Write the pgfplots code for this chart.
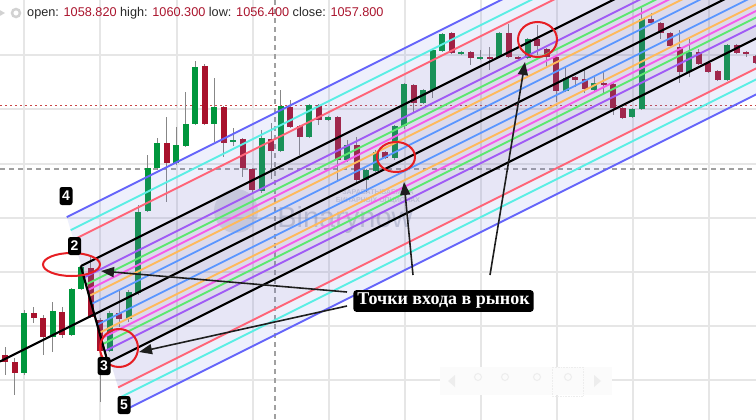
\documentclass[border=0pt]{standalone}
\usepackage{pgfplots}
\pgfplotsset{compat=1.18}
\usepackage{pgfplotstable}
\usepackage{fontspec}
\setmainfont{Liberation Sans}
\newfontfamily\serifb{Liberation Serif}
\usetikzlibrary{arrows.meta}

\definecolor{cgreen}{RGB}{0,150,60}
\definecolor{cred}{RGB}{168,18,44}
\definecolor{wick}{RGB}{135,135,135}
\definecolor{lblue}{RGB}{100,100,250}
\definecolor{lcyan}{RGB}{90,238,228}
\definecolor{lred}{RGB}{255,100,120}
\definecolor{lpurple}{RGB}{160,90,245}
\definecolor{lgreen}{RGB}{90,232,110}
\definecolor{lmag}{RGB}{245,90,235}
\definecolor{lorange}{RGB}{255,185,90}
\definecolor{lsky}{RGB}{90,150,255}
\definecolor{valred}{RGB}{170,20,45}
\definecolor{ring}{RGB}{230,30,35}
\definecolor{arr}{RGB}{30,30,30}
\definecolor{wm}{RGB}{110,125,150}

\tikzset{
  numlabel/.style={fill=black, text=white, rounded corners=2.5pt, minimum width=13pt,
      minimum height=18pt, inner sep=0pt, font=\bfseries\fontsize{14}{14}\selectfont},
  arrow/.style={line width=1.6pt, draw=arr, -{Triangle[length=13pt,width=10pt]}},
}

% candles in screen pixels: body top/bottom, wick top/bottom
\pgfplotstableread{
x     bt  bb  hi  lo
24    313 373 310 375
52.5  311 337 302 352
71.5  289 335 288 336
81    267 289 265 290
109.5 313 351 311 352
128.5 292 319 290 322
138   212 293 205 295
147.5 168 211 155 212
157   143 168 138 170
176   145 163 127 165
185.5 124 146 92  147
195   67  124 61  125
214   107 124 78  142
233   140 142 128 146
261.5 138 191 130 193
280.5 106 151 90  152
309   105 137 104 138
328   117 120 116 121
347   145 160 140 162
366   170 180 169 192
375.5 152 171 150 172
394.5 126 158 125 160
404   84  126 83  129
423   90  103 89  104
432.5 50  90  49  98
442   34  51  33  52
461   52  54  51  55
480   57  59  50  60
499   33  57  32  58
527.5 39  58  38  59
565.5 78  91  67  92
594   83  90  77  91
632   109 117 108 118
641.5 19  109 6   110
689   52  72  39  77
727   45  80  44  81
}\greens

\pgfplotstableread{
x     bt  bb  hi  lo
5     355 362 347 375
14.5  362 373 358 395
33.5  313 318 307 323
43    318 337 315 355
62    312 335 307 338
90.5  268 317 257 318
100   320 351 318 402
119   313 319 290 327
166.5 143 163 117 202
204.5 66  124 64  125
223.5 107 143 106 157
242.5 139 168 138 177
252   169 190 168 193
271   139 151 123 179
290   107 127 100 128
299.5 126 137 125 155
318.5 105 120 104 125
337.5 117 160 116 180
356.5 145 180 137 183
385   152 158 151 159
413.5 85  103 84  113
451.5 33  53  32  54
470.5 52  58  51  65
489.5 57  58  47  70
508.5 33  57  24  58
518   57  59  56  60
537   39  46  25  55
546.5 49  57  48  67
556   57  91  56  102
575   77  80  76  87
584.5 79  89  70  93
603.5 83  85  72  93
613   84  108 83  115
622.5 108 118 107 119
651   19  23  13  24
660.5 23  33  22  39
670   33  46  32  48
679.5 47  72  30  83
698.5 52  64  49  65
708   63  72  62  73
717.5 71  80  70  81
736.5 45  53  44  54
746   52  54  51  57
755.5 56  63  55  64
}\reds

\begin{document}
\begin{tikzpicture}
\begin{axis}[
    scale only axis,
    width=756pt, height=420pt,
    xmin=0, xmax=756, ymin=0, ymax=420,
    y dir=reverse,
    axis line style={draw=none},
    tick style={draw=none},
    xticklabels={}, yticklabels={},
    xtick={24,100,177,253,329,405,481,557,633,709},
    ytick={55,109,164,218,272,326,380},
    grid=major,
    major grid style={draw={rgb,255:red,230;green,230;blue,230}, line width=1.4pt},
]
\coordinate (bl) at (axis cs:0,420);
\coordinate (tr) at (axis cs:756,0);

% watermark
\fill[wm, opacity=0.2] (axis cs:236,211) circle[radius=22pt];
\node[text=wm, opacity=0.35, inner sep=0pt, font=\fontsize{29}{29}\selectfont]
    at (axis cs:345,220) {Binarynow};
\node[text=wm, opacity=0.3, inner sep=0pt, font=\bfseries\fontsize{7}{7.5}\selectfont, align=center]
    at (axis cs:378,197) {ЗАРАБАТЫВАЕМ НА\\БИНАРНЫХ ОПЦИОНАХ};

% price line and crosshair
\addplot[draw={rgb,255:red,200;green,70;blue,70}, line width=0.9pt, dash pattern=on 2pt off 3pt] coordinates {(0,105) (756,105)};
\addplot[draw={rgb,255:red,160;green,160;blue,160}, line width=1.5pt, dash pattern=on 5pt off 4pt] coordinates {(0,169) (756,169)};
\addplot[draw={rgb,255:red,160;green,160;blue,160}, line width=1.5pt, dash pattern=on 5pt off 4pt] coordinates {(275,0) (275,420)};

% wicks
\addplot[draw=none, error bars/.cd, y dir=both, y explicit, error mark=none,
    error bar style={draw=wick, line width=1pt}]
    table[x=x, y expr={(\thisrow{hi}+\thisrow{lo})/2}, y error expr={(\thisrow{lo}-\thisrow{hi})/2}] {\greens};
\addplot[draw=none, error bars/.cd, y dir=both, y explicit, error mark=none,
    error bar style={draw=wick, line width=1pt}]
    table[x=x, y expr={(\thisrow{hi}+\thisrow{lo})/2}, y error expr={(\thisrow{lo}-\thisrow{hi})/2}] {\reds};
% bodies
\addplot[draw=none, error bars/.cd, y dir=both, y explicit, error mark=none,
    error bar style={draw=cgreen, line width=6pt}]
    table[x=x, y expr={(\thisrow{bt}+\thisrow{bb})/2}, y error expr={max((\thisrow{bb}-\thisrow{bt})/2,0.8)}] {\greens};
\addplot[draw=none, error bars/.cd, y dir=both, y explicit, error mark=none,
    error bar style={draw=cred, line width=6pt}]
    table[x=x, y expr={(\thisrow{bt}+\thisrow{bb})/2}, y error expr={max((\thisrow{bb}-\thisrow{bt})/2,0.8)}] {\reds};

% channel fills
\addplot[draw=none, fill={rgb,255:red,120;green,140;blue,235}, fill opacity=0.13]
    coordinates {(66.74,217.13) (800,-149.5) (800,72.5) (125,410)} -- cycle;
\addplot[draw=none, fill={rgb,255:red,150;green,110;blue,170}, fill opacity=0.08]
    coordinates {(73.56,239.72) (800,-123.5) (800,46.5) (118.16,387.42)} -- cycle;
\addplot[draw=none, fill={rgb,255:red,90;green,80;blue,120}, fill opacity=0.08]
    coordinates {(80.76,266.12) (800,-93.5) (800,16.5) (107.88,362.56)} -- cycle;

% outer levels
\addplot[draw=lblue, line width=1.8pt] coordinates {(66.74,217.13) (800,-149.5)};
\addplot[draw=lcyan, line width=1.8pt] coordinates {(70.68,230.16) (800,-134.5)};
\addplot[draw=lred, line width=1.8pt] coordinates {(73.56,239.72) (800,-123.5)};
\addplot[draw=lred, line width=1.8pt] coordinates {(118.16,387.42) (800,46.5)};
\addplot[draw=lcyan, line width=1.8pt] coordinates {(121.06,396.97) (800,57.5)};
\addplot[draw=lblue, line width=1.8pt] coordinates {(125,410) (800,72.5)};
% inner levels
\addplot[draw=lpurple, line width=1.8pt] coordinates {(83.96,277.52) (800,-80.5)};
\addplot[draw=lgreen, line width=1.8pt] coordinates {(85.94,284.53) (800,-72.5)};
\addplot[draw=lmag, line width=1.8pt] coordinates {(87.54,290.23) (800,-66)};
\addplot[draw=lorange, line width=1.8pt] coordinates {(89.14,295.93) (800,-59.5)};
\addplot[draw=lsky, line width=1.8pt] coordinates {(91.4,304) (800,-50.3)};
\addplot[draw=lsky, line width=1.8pt] coordinates {(97.22,324.69) (800,-26.7)};
\addplot[draw=lorange, line width=1.8pt] coordinates {(99.5,332.75) (800,-17.5)};
\addplot[draw=lmag, line width=1.8pt] coordinates {(101.08,338.46) (800,-11)};
\addplot[draw=lgreen, line width=1.8pt] coordinates {(102.7,344.15) (800,-4.5)};
\addplot[draw=lpurple, line width=1.8pt] coordinates {(104.68,351.16) (800,3.5)};
% black lines
\addplot[draw=black, line width=2.2pt] coordinates {(80.76,266.12) (800,-93.5)};
\addplot[draw=black, line width=2.2pt] coordinates {(0,361.5) (800,-38.5)};
\addplot[draw=black, line width=2.2pt] coordinates {(107.88,362.56) (800,16.5)};
\addplot[draw=black, line width=2.2pt] coordinates {(80.76,266.12) (107.88,362.56)};

% rings
\draw[ring, line width=2pt] (axis cs:71.5,264.5) ellipse[x radius=28.5pt, y radius=11.5pt];
\draw[ring, line width=2pt] (axis cs:119,348) ellipse[x radius=19pt, y radius=19pt];
\draw[ring, line width=2pt] (axis cs:396,157) ellipse[x radius=19pt, y radius=15pt];
\draw[ring, line width=2pt] (axis cs:537.5,39.5) ellipse[x radius=19.5pt, y radius=17.5pt];

% arrows
\draw[arrow] (axis cs:347,292) -- (axis cs:101,271);
\draw[arrow] (axis cs:347,306) -- (axis cs:139,352);
\draw[arrow] (axis cs:413,275) -- (axis cs:404,182);
\draw[arrow] (axis cs:490,275) -- (axis cs:525,62);

% labels
\node[fill=black, text=white, rounded corners=3pt, inner xsep=4pt, inner ysep=3pt,
    font=\serifb\bfseries\fontsize{18}{18}\selectfont] at (axis cs:443.5,301) {Точки входа в рынок};
\node[numlabel] at (axis cs:66,196) {4};
\node[numlabel] at (axis cs:74.5,246) {2};
\node[numlabel] at (axis cs:104,366) {3};
\node[numlabel] at (axis cs:124,405) {5};

% header
\node[anchor=west, inner sep=0pt, font=\fontsize{12.7}{13}\selectfont, text={rgb,255:red,40;green,40;blue,40}] at (axis cs:27,13)
  {open: \textcolor{valred}{1058.820} high: \textcolor{valred}{1060.300} low: \textcolor{valred}{1056.400} close: \textcolor{valred}{1057.800}};
\draw[gray!35, line width=2.5pt] (axis cs:16,13) circle[radius=4pt];
\fill[gray!35] (axis cs:-2,9) -- (axis cs:5,13) -- (axis cs:-2,17) -- cycle;

% toolbar
\fill[gray!3] (axis cs:440,367) rectangle (axis cs:612,395);
\draw[gray!14, line width=1pt] (axis cs:478,377) circle[radius=3.5pt];
\draw[gray!14, line width=1pt] (axis cs:505,377) circle[radius=3.5pt];
\draw[gray!14, line width=1pt] (axis cs:537,377) circle[radius=3.5pt];
\draw[gray!14, line width=1pt] (axis cs:568,377) circle[radius=3.5pt];
\draw[gray!14, line width=0.6pt, densely dotted] (axis cs:552,367) rectangle (axis cs:583,396);
\fill[gray!14] (axis cs:455,375) -- (axis cs:448,381) -- (axis cs:455,387) -- cycle;
\fill[gray!14] (axis cs:594,375) -- (axis cs:601,381) -- (axis cs:594,387) -- cycle;
\end{axis}
\pgfresetboundingbox
\path[use as bounding box] (bl) rectangle (tr);
\end{tikzpicture}
\end{document}
